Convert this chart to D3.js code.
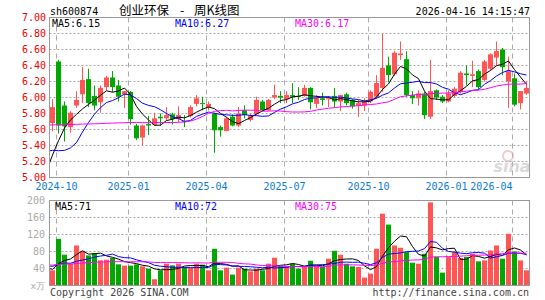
<!DOCTYPE html>
<html>
<head>
<meta charset="utf-8">
<script src="https://cdn.jsdelivr.net/npm/d3@7/dist/d3.min.js"></script>
<style>
body { margin: 0; background: #fff; }
svg { display: block; }
text { font-family: "DejaVu Sans Mono", monospace; font-size: 10px; }
</style>
</head>
<body>
<svg id="chart"></svg>
<script>
// weekly candles, oldest first
var openP = [5.68,6.45,5.90,5.63,5.90,6.04,6.23,6.02,5.94,6.13, 6.25,6.15,6.04,6.07,5.65,5.50,5.67,5.66,5.76,5.74,
             5.79,5.73,5.71,5.77,5.92,5.93,5.88,5.80,5.63,5.58, 5.76,5.65,5.84,5.72,5.79,5.95,5.84,6.00,6.02,5.98,
             6.03,6.02,6.02,6.12,5.92,5.99,5.98,6.02,5.95,6.04, 5.97,5.90,5.90,5.95,6.01,6.12,6.40,6.29,6.53,6.48,
             6.03,5.99,6.05,5.76,6.09,6.01,5.95,6.02,6.07,6.30, 6.27,6.33,6.22,6.36,6.50,6.60,6.20,6.24,5.93,6.05];
var closeP = [5.88,5.65,5.64,5.81,5.97,6.22,5.93,5.90,6.12,6.25, 6.13,6.01,6.08,5.73,5.49,5.65,5.65,5.74,5.74,5.78,
              5.73,5.78,5.70,5.88,5.99,5.92,5.92,5.59,5.59,5.74, 5.65,5.80,5.78,5.77,5.97,5.84,5.97,6.03,6.00,6.03,
              6.01,6.01,6.12,5.94,5.99,5.97,5.99,5.95,6.03,5.93, 5.89,5.93,5.95,6.07,6.18,6.37,6.28,6.56,6.55,6.03,
              5.99,6.05,5.78,6.08,6.00,5.95,6.05,6.11,6.31,6.28, 6.29,6.13,6.45,6.54,6.58,6.38,6.33,5.91,6.08,6.12];
var highP = [5.98,6.47,5.95,5.83,6.08,6.38,6.36,6.15,6.15,6.27, 6.33,6.22,6.08,6.08,5.67,5.66,5.77,5.81,5.80,5.88,
             5.81,5.89,5.78,5.90,6.03,6.01,5.95,5.81,5.65,5.76, 5.79,5.88,5.90,5.80,6.01,5.97,5.98,6.16,6.08,6.08,
             6.18,6.13,6.16,6.13,6.03,6.06,6.02,6.12,6.03,6.06, 5.98,5.97,5.99,6.09,6.28,6.80,6.51,6.58,6.70,6.58,
             6.08,6.09,6.07,6.47,6.10,6.03,6.09,6.13,6.33,6.40, 6.46,6.35,6.47,6.55,6.70,6.62,6.51,6.30,6.08,6.20];
var lowP = [5.58,5.55,5.45,5.56,5.87,5.93,5.88,5.84,5.81,6.09, 6.07,5.95,5.87,5.66,5.47,5.40,5.53,5.65,5.65,5.72,
            5.66,5.69,5.63,5.75,5.89,5.84,5.84,5.31,5.51,5.58, 5.64,5.63,5.74,5.70,5.78,5.83,5.83,5.98,5.93,5.93,
            5.93,5.97,6.01,5.85,5.87,5.90,5.88,5.87,5.83,5.90, 5.86,5.76,5.83,5.93,5.99,6.07,6.19,6.27,6.47,6.01,
            5.92,5.90,5.73,5.73,5.97,5.93,5.94,6.00,6.05,6.15, 6.13,6.10,6.20,6.34,6.40,6.28,5.87,5.89,5.85,6.03];
// weekly volume, 10k lots
var volumes = [35.7,109.8,72.4,51.3,94.2,81.0,70.8,76.3,59.1,60.7, 64.6,49.8,46.7,46.7,49.8,45.1,39.6,14.7,35.7,51.3,
               47.4,51.3,43.5,41.2,51.3,49.0,35.7,86.4,35.7,42.0, 25.6,42.0,39.6,33.4,39.6,35.7,51.3,65.4,45.9,45.1,
               51.3,39.6,45.1,58.3,45.1,43.5,63.0,81.7,72.4,51.3, 45.1,43.5,18.6,27.9,86.4,169.0,143.3,94.2,88.7,78.6,
               53.6,51.3,74.7,195.6,67.0,30.3,67.0,78.6,64.6,67.0, 74.7,56.8,59.1,82.5,94.2,63.0,121.5,80.2,59.1,35.7];
// weeks before the first candle, only used to start the moving averages
var priorCloses = [5.65,5.64,5.62,5.74,5.89,6.12,5.89,5.84,6.04,6.14, 6.06,5.94,5.99,5.64,5.55,5.65,5.66,5.72,5.74,5.76,
                   5.73,5.70,5.60,5.50,5.30,4.90,4.75,4.85,5.30,5.62];
var priorVolumes = [52,48,55,60,47,44,50,53,46,42, 48,51,56,49,45,47,52,50,44,48, 53,56,50,53,48,52,43,36,33,43];

var priceTicks = [7.00,6.80,6.60,6.40,6.20,6.00,5.80,5.60,5.40,5.20,5.00];
var volumeTicks = [200,160,120,80,40];
var dateLabels = ["2024-10","2025-01","2025-04","2025-07","2025-10","2026-01","2026-04"];
var dateWeeks = [1,13,26,39,53,66,77]; // index of the first week of each labelled month
var maPeriods = [5,10,30];
var priceMaText = ["MA5:6.15","MA10:6.27","MA30:6.17"];
var volumeMaText = ["MA5:71","MA10:72","MA30:75"];

var width = 545, height = 300;
var left = 49.5, right = 529.5;
var maColors = ["#000000","#0000ff","#ff00ff"];
var maLabelX = [52,175,295];
var upColor = "#ff5555", downColor = "#00a800";

var svg = d3.select("#chart").attr("width", width).attr("height", height);

var n = closeP.length;
var x = d3.scaleLinear().domain([-0.5, n - 0.5]).range([left, right]);
var y = d3.scaleLinear().domain([5, 7]).range([177.5, 17.5]);
var yv = d3.scaleLinear().domain([0, 200]).range([285.5, 200.5]);

function movingAvg(values, p) {
  return values.map(function(v, i) {
    if (i < p - 1) return null;
    return d3.mean(values.slice(i - p + 1, i + 1));
  });
}

// series from slot -1 so the lines run into the left border
function maSeries(prior, values, p) {
  var all = prior.concat(values);
  return movingAvg(all, p).slice(prior.length - 1).map(function(v, i) {
    return {i: i - 1, v: v};
  });
}

var clip = svg.append("defs");
clip.append("clipPath").attr("id", "clipPrice").append("rect")
  .attr("x", 50).attr("y", 18).attr("width", 479).attr("height", 159);
clip.append("clipPath").attr("id", "clipVol").append("rect")
  .attr("x", 50).attr("y", 201).attr("width", 479).attr("height", 84);

// horizontal grid
svg.append("g").selectAll("line").data(priceTicks.slice(1, -1)).enter().append("line")
  .attr("x1", left).attr("x2", right)
  .attr("y1", function(d) { return y(d); }).attr("y2", function(d) { return y(d); })
  .attr("stroke", "#aaaaaa").attr("stroke-dasharray", "2,2");
svg.append("g").selectAll("line").data(volumeTicks.slice(1)).enter().append("line")
  .attr("x1", left).attr("x2", right)
  .attr("y1", function(d) { return Math.round(yv(d) - 0.5) + 0.5; })
  .attr("y2", function(d) { return Math.round(yv(d) - 0.5) + 0.5; })
  .attr("stroke", "#aaaaaa").attr("stroke-dasharray", "2,2");

// vertical dashed month lines
var gridX = function(i) { return Math.floor(x(i) - 2.5) + 0.5; };
[[17.5, 177.5], [200.5, 285.5]].forEach(function(r) {
  svg.append("g").selectAll("line").data(dateWeeks).enter().append("line")
    .attr("x1", gridX).attr("x2", gridX)
    .attr("y1", r[0]).attr("y2", r[1])
    .attr("stroke", "#aaaaaa").attr("stroke-dasharray", "5,4");
});

// sina watermark
var mark = svg.append("g").attr("opacity", 0.55);
mark.append("circle").attr("cx", 508).attr("cy", 156).attr("r", 5)
  .attr("fill", "none").attr("stroke", "#e8a0a0").attr("stroke-width", 2);
mark.append("text").attr("x", 512).attr("y", 172).attr("text-anchor", "middle")
  .style("font-family", "DejaVu Sans").style("font-size", "16px")
  .style("font-style", "italic").style("font-weight", "bold")
  .attr("fill", "#bbbbbb").text("sina");

var idx = d3.range(n);

// candles
var candles = svg.append("g");
candles.selectAll(".wick").data(idx).enter().append("rect")
  .attr("class", "wick")
  .attr("x", function(i) { return x(i) - 0.5; })
  .attr("width", 1)
  .attr("y", function(i) { return y(highP[i]); })
  .attr("height", function(i) { return Math.max(1, y(lowP[i]) - y(highP[i])); })
  .attr("fill", function(i) { return closeP[i] >= openP[i] ? upColor : downColor; });
candles.selectAll(".body").data(idx).enter().append("rect")
  .attr("class", "body")
  .attr("x", function(i) { return x(i) - 2.5; })
  .attr("width", 5)
  .attr("y", function(i) { return y(Math.max(openP[i], closeP[i])); })
  .attr("height", function(i) { return Math.max(1, Math.abs(y(openP[i]) - y(closeP[i]))); })
  .attr("fill", function(i) { return closeP[i] >= openP[i] ? upColor : downColor; });

// volume bars
svg.append("g").selectAll("rect").data(idx).enter().append("rect")
  .attr("x", function(i) { return x(i) - 2.5; })
  .attr("width", 5)
  .attr("y", function(i) { return yv(volumes[i]); })
  .attr("height", function(i) { return yv(0) - yv(volumes[i]); })
  .attr("fill", function(i) { return closeP[i] >= openP[i] ? upColor : downColor; });

// moving averages
maPeriods.forEach(function(p, k) {
  var line = d3.line().x(function(d) { return x(d.i); });
  svg.append("path")
    .datum(maSeries(priorCloses, closeP, p))
    .attr("clip-path", "url(#clipPrice)")
    .attr("fill", "none").attr("stroke", maColors[k]).attr("stroke-width", 1)
    .attr("d", line.y(function(d) { return y(d.v); }));
  svg.append("path")
    .datum(maSeries(priorVolumes, volumes, p))
    .attr("clip-path", "url(#clipVol)")
    .attr("fill", "none").attr("stroke", maColors[k]).attr("stroke-width", 1)
    .attr("d", line.y(function(d) { return yv(d.v); }));
});

// frames
svg.append("rect").attr("x", left).attr("y", 17.5).attr("width", right - left).attr("height", 160)
  .attr("fill", "none").attr("stroke", "#999999");
svg.append("rect").attr("x", left).attr("y", 200.5).attr("width", right - left).attr("height", 85)
  .attr("fill", "none").attr("stroke", "#999999");

// axis labels
svg.append("g").selectAll("text").data(priceTicks).enter().append("text")
  .attr("x", 46).attr("y", function(d) { return y(d) + 3.5; })
  .attr("text-anchor", "end").attr("fill", "#ee0000")
  .text(function(d) { return d3.format(".2f")(d); });
svg.append("g").selectAll("text").data(volumeTicks).enter().append("text")
  .attr("x", 45).attr("y", function(d) { return yv(d) + 3.5; })
  .attr("text-anchor", "end").attr("fill", "#aaaaaa")
  .text(function(d) { return d; });
svg.append("text").attr("x", 45).attr("y", 289).attr("text-anchor", "end")
  .attr("fill", "#aaaaaa").style("font-size", "9px").text("x万");

svg.append("g").selectAll("text").data(dateLabels).enter().append("text")
  .attr("x", function(d, i) { return gridX(dateWeeks[i]); })
  .attr("y", 190)
  .attr("text-anchor", function(d, i) { return i == dateLabels.length - 1 ? "end" : "middle"; })
  .attr("fill", "#0b7bd6")
  .text(function(d) { return d; });

// MA value labels
svg.append("g").selectAll("text").data(priceMaText).enter().append("text")
  .attr("x", function(d, i) { return maLabelX[i]; }).attr("y", 27)
  .attr("fill", function(d, i) { return maColors[i]; }).text(function(d) { return d; });
svg.append("g").selectAll("text").data(volumeMaText).enter().append("text")
  .attr("x", function(d, i) { return maLabelX[i] + 3 * (i == 0); }).attr("y", 210)
  .attr("fill", function(d, i) { return maColors[i]; }).text(function(d) { return d; });

// header and footer
svg.append("text").attr("x", 50).attr("y", 15).attr("fill", "#000").text("sh600874");
var title = svg.append("text").attr("y", 15).attr("fill", "#000")
  .style("font-family", "'Noto Sans CJK SC', sans-serif").style("font-size", "12.5px");
title.append("tspan").attr("x", 119).text("创业环保");
title.append("tspan").attr("x", 180).text("-");
title.append("tspan").attr("x", 194).text("周K线图");
svg.append("text").attr("x", 530).attr("y", 15).attr("text-anchor", "end")
  .attr("fill", "#000").text("2026-04-16 14:15:47");
svg.append("text").attr("x", 50).attr("y", 296).attr("fill", "#444").text("Copyright 2026 SINA.COM");
svg.append("text").attr("x", 529).attr("y", 296).attr("text-anchor", "end")
  .attr("fill", "#444").text("http://finance.sina.com.cn");
</script>
</body>
</html>
